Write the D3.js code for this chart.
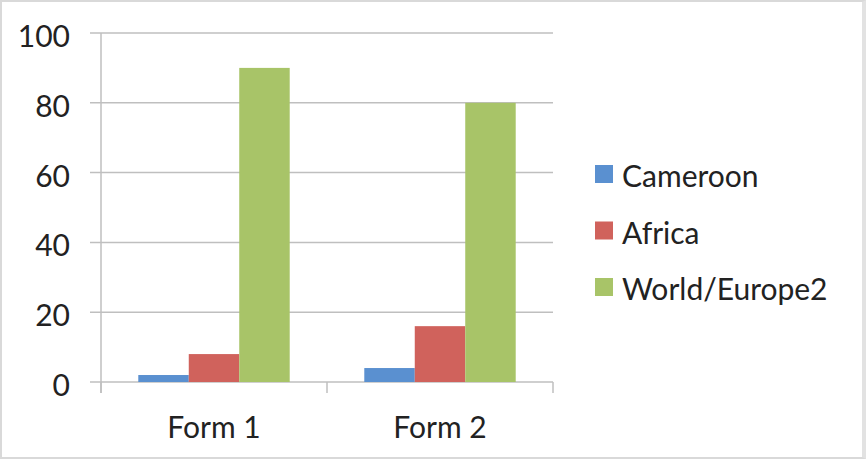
<!DOCTYPE html>
<html>
<head>
<meta charset="utf-8">
<script src="https://cdn.jsdelivr.net/npm/d3@7"></script>
<style>
  html, body { margin: 0; padding: 0; background: #fff; }
  #chart {
    position: relative;
    width: 866px; height: 459px;
    box-sizing: border-box;
    border: 2px solid #d9d9d9;
    border-right: 4px solid #e2e2e2;
  }
  #chart svg { position: absolute; left: -2px; top: -2px; display: block; overflow: visible;
    font-family: Lato, "Open Sans", "Liberation Sans", sans-serif; }
</style>
</head>
<body>
<div id="chart"></div>
<script>
const categories = ["Form 1", "Form 2"];
const seriesNames = ["Cameroon", "Africa", "World/Europe2"];
const cameroon = [2, 4];
const africa = [8, 16];
const worldEurope = [90, 80];
const yTicks = [0, 20, 40, 60, 80, 100];
const colors = ["#5A90D0", "#D0625C", "#A8C468"];

const width = 866, height = 459;
const margin = { top: 33, right: 313, bottom: 77, left: 101 };
const innerWidth = width - margin.left - margin.right;
const innerHeight = height - margin.top - margin.bottom;

const seriesValues = [cameroon, africa, worldEurope];
const rows = categories.map((c, i) => ({
  category: c,
  values: seriesNames.map((s, j) => ({ series: s, value: seriesValues[j][i], idx: j }))
}));

const svg = d3.select("#chart").append("svg")
  .attr("width", width - 6)
  .attr("height", height - 4);

const x0 = d3.scaleBand()
  .domain(categories)
  .range([margin.left, margin.left + innerWidth])
  .paddingInner(0.33)
  .paddingOuter(0.165);

const x1 = d3.scaleBand()
  .domain(seriesNames)
  .range([0, x0.bandwidth()]);

const y = d3.scaleLinear()
  .domain([0, 100])
  .range([margin.top + innerHeight, margin.top]);

const xLeft = margin.left, xRight = margin.left + innerWidth;
const yBase = y(0);

// gridlines with short ticks to the left of the axis
svg.append("g")
  .selectAll("line")
  .data(yTicks)
  .join("line")
  .attr("x1", xLeft - 11)
  .attr("x2", xRight)
  .attr("y1", d => y(d))
  .attr("y2", d => y(d))
  .attr("stroke", "#bfbfbf")
  .attr("stroke-width", 1.5);

// y labels (axis drawn from the left edge so labels sit right-aligned before the ticks)
const yAxis = svg.append("g")
  .call(d3.axisRight(y).tickValues(yTicks).tickSize(0).tickPadding(70))
  .attr("font-size", 30)
  .attr("font-family", "Lato, 'Open Sans', sans-serif");
yAxis.select(".domain").remove();
yAxis.selectAll(".tick line").remove();
yAxis.selectAll(".tick text")
  .attr("text-anchor", "end")
  .attr("dy", "0.45em")
  .attr("fill", "#222");

// vertical axis line
svg.append("line")
  .attr("x1", xLeft).attr("x2", xLeft)
  .attr("y1", margin.top).attr("y2", yBase + 11)
  .attr("stroke", "#bfbfbf")
  .attr("stroke-width", 1.5);

// category separators
const sepX = [xLeft, (xLeft + xRight) / 2, xRight];
svg.append("g")
  .selectAll("line")
  .data(sepX)
  .join("line")
  .attr("x1", d => d).attr("x2", d => d)
  .attr("y1", yBase).attr("y2", yBase + 11)
  .attr("stroke", "#bfbfbf")
  .attr("stroke-width", 1.5);

// bars
svg.append("g")
  .selectAll("g")
  .data(rows)
  .join("g")
  .attr("transform", d => `translate(${x0(d.category)},0)`)
  .selectAll("rect")
  .data(d => d.values)
  .join("rect")
  .attr("x", d => x1(d.series))
  .attr("y", d => y(d.value))
  .attr("width", x1.bandwidth())
  .attr("height", d => yBase - y(d.value))
  .attr("fill", d => colors[d.idx]);

// category labels
svg.append("g")
  .selectAll("text")
  .data(categories)
  .join("text")
  .attr("x", d => x0(d) + x0.bandwidth() / 2)
  .attr("y", yBase + 56)
  .attr("text-anchor", "middle")
  .attr("font-size", 30)
  .attr("fill", "#222")
  .text(d => d);

// legend
const legend = svg.append("g")
  .attr("transform", "translate(595,165)");
const item = legend.selectAll("g")
  .data(seriesNames)
  .join("g")
  .attr("transform", (d, i) => `translate(0,${i * 56.5})`);
item.append("rect")
  .attr("width", 18)
  .attr("height", 18)
  .attr("fill", (d, i) => colors[i]);
item.append("text")
  .attr("x", 27)
  .attr("y", 22)
  .attr("font-size", 30)
  .attr("fill", "#222")
  .text(d => d);
</script>
</body>
</html>
